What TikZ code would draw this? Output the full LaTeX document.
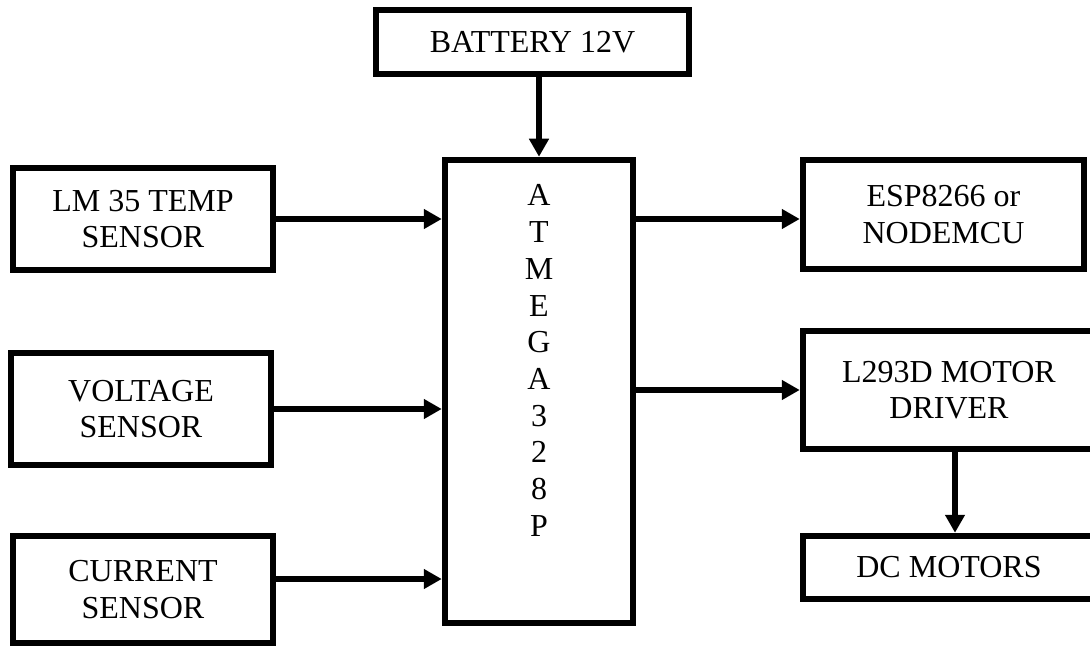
\documentclass[tikz,border=0pt]{standalone}
\usepackage{fontspec}
\setmainfont{Liberation Serif}
\usetikzlibrary{arrows.meta}

\begin{document}
\begin{tikzpicture}[x=1pt,y=-1pt,>={Triangle[length=18pt,width=19pt]},
  blk/.style={draw,line width=6.5pt,inner sep=0pt,align=center,
    font=\fontsize{32}{36.7}\selectfont},
  wire/.style={->,line width=6.5pt}]
\path[use as bounding box,clip] (0,0) rectangle (1090,647);

\node[blk,minimum width=313pt,minimum height=64pt] (bat) at (532.5,42) {BATTERY 12V};
\node[blk,minimum width=188pt,minimum height=463pt] (atm) at (539,391.5) {};
\node[align=center,font=\fontsize{32}{36.7}\selectfont,yshift=31pt] (atmtxt) at (atm)
  {A\\T\\M\\E\\G\\A\\3\\2\\8\\P};

\node[blk,minimum width=260pt,minimum height=102pt] (lm)   at (143,219)   {LM 35 TEMP\\SENSOR};
\node[blk,minimum width=260pt,minimum height=112pt] (volt) at (141,409)   {VOLTAGE\\SENSOR};
\node[blk,minimum width=260pt,minimum height=107pt] (cur)  at (143,589.5) {CURRENT\\SENSOR};

\node[blk,minimum width=281pt,minimum height=109pt] (esp) at (943.5,214.5) {ESP8266 or\\NODEMCU};
\node[blk,minimum width=292pt,minimum height=118pt] (drv) at (949,390)     {L293D MOTOR\\DRIVER};
\node[blk,minimum width=292pt,minimum height=63pt]  (dcm) at (949,567.5)   {DC MOTORS};

\draw[wire] (bat.south -| atm.north) -- (atm.north);
\draw[wire] (lm.east) -- (lm.east -| atm.west);
\draw[wire] (volt.east) -- (volt.east -| atm.west);
\draw[wire] ([yshift=10.5pt]cur.east) -- ([yshift=10.5pt]cur.east -| atm.west);
\draw[wire] (atm.east |- lm.east) -- (esp.west |- lm.east);
\draw[wire] (atm.east |- drv.west) -- (drv.west);
\draw[wire] ([xshift=6pt]drv.south) -- ([xshift=6pt]dcm.north);
\end{tikzpicture}
\end{document}
